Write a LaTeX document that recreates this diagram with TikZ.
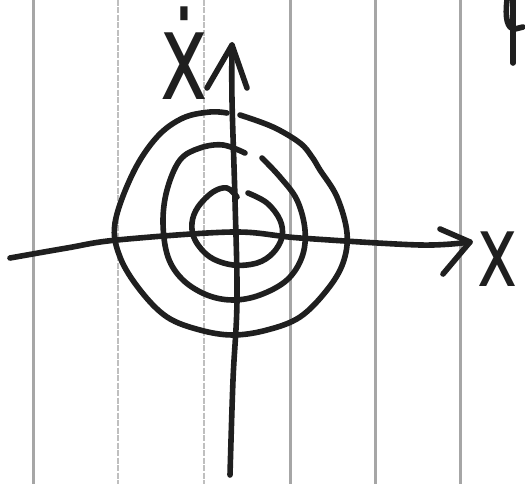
\documentclass[tikz,border=0pt]{standalone}
\usepackage{fontspec}
\newfontfamily\labelfont{DejaVu Sans}
\begin{document}
\begin{tikzpicture}[x=1pt,y=-1pt,
  ink/.style={line width=5.6pt,line cap=round,line join=round,black!88},
  rulesolid/.style={line width=3pt,gray!70},
  rulelight/.style={line width=2.6pt,gray!50,dash pattern=on 6pt off 1.5pt},
  lbl/.style={inner sep=0pt,anchor=base,text=black!88}]
\useasboundingbox (0,0) rectangle (525,484);
\fill[white] (0,0) rectangle (525,484);
% notebook rules
\draw[rulesolid] (33,0) -- (33,484);
\draw[rulelight] (118,0) -- (118,484);
\draw[rulelight] (204,0) -- (204,484);
\draw[rulesolid] (290,0) -- (290,484);
\draw[rulesolid] (375,0) -- (375,484);
\draw[rulesolid] (460,0) -- (460,484);
% axes
\coordinate (xstart) at (10,258);
\coordinate (xtip) at (470,242);
\coordinate (ystart) at (230,475);
\coordinate (ytip) at (232,45);
\draw[ink] plot[smooth,tension=0.55] coordinates {(xstart) (67,248) (117,240) (233,232) (300,238) (420,245) (xtip)};
\draw[ink] (440,229) -- (xtip) -- (443,274);
\draw[ink] plot[smooth,tension=0.6] coordinates {(ystart) (233,380) (237,300) (235,200) (232,100) (ytip)};
\draw[ink] (207,88) -- (ytip) -- (247,88);
% outer orbit
\draw[ink] plot[smooth,tension=0.6] coordinates {(240,115) (273,127) (300,143) (312,157) (320,170) (337,197) (347,233) (343,263) (327,290) (300,317) (267,330) (233,335) (200,330) (167,317) (140,290) (120,257) (115,223) (133,173) (157,137) (183,118) (210,112) (227,113)};
% middle orbit
\draw[ink] plot[smooth,tension=0.6] coordinates {(262,158) (280,177) (297,200) (305,230) (302,257) (287,280) (260,295) (233,300) (207,295) (183,280) (168,257) (163,223) (167,190) (180,160) (200,148) (223,145) (245,153)};
% inner orbit
\draw[ink] plot[smooth,tension=0.6] coordinates {(248,193) (267,203) (280,220) (282,237) (273,253) (257,263) (233,265) (210,257) (195,240) (192,223) (198,207) (213,192) (227,188) (237,197)};
% labels
\node[lbl,font=\labelfont\fontsize{122}{122}\selectfont] (ydot) at (184,100) {\scalebox{0.66}[1]{ẋ}};
\node[lbl,font=\labelfont\fontsize{100}{100}\selectfont] (xlab) at (498,286) {\scalebox{0.68}[1]{x}};
% cut-off mark at top right
\draw[ink] (513,0) -- (513,63);
\draw[ink] (507,0) .. controls (505,18) and (507,29) .. (515,29) -- (523,27);
\end{tikzpicture}
\end{document}
